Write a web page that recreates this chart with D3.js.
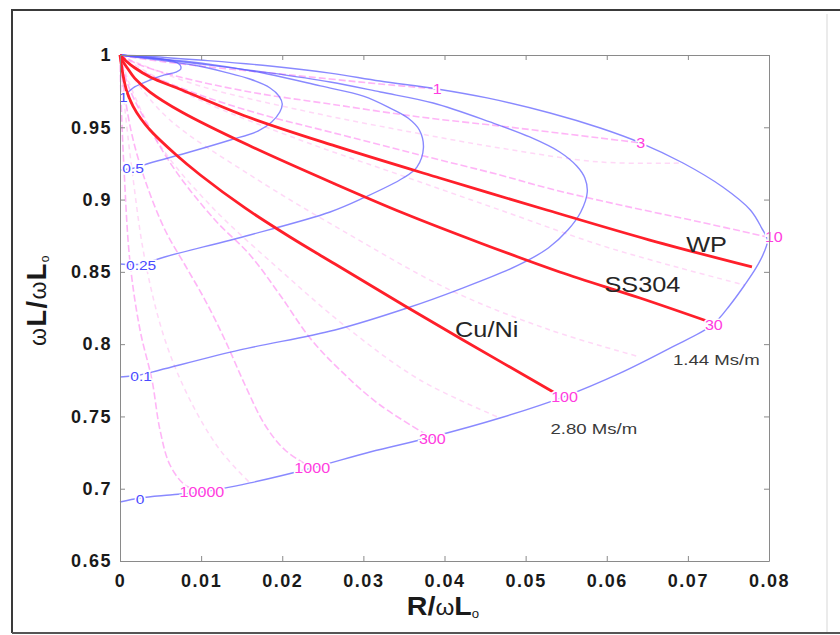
<!DOCTYPE html>
<html><head><meta charset="utf-8">
<script src="https://cdn.jsdelivr.net/npm/d3@7/dist/d3.min.js"></script>
<style>body{margin:0;background:#fff}svg{display:block}</style>
</head><body><svg id="c" width="840" height="635"></svg>
<script>
// ---------- data ----------
const xTickVals = [0, 0.01, 0.02, 0.03, 0.04, 0.05, 0.06, 0.07, 0.08];
const yTickVals = [0.65, 0.7, 0.75, 0.8, 0.85, 0.9, 0.95, 1];

// lift-off contours (blue)
const liftOffNames = ["0", "0.1", "0.25", "0.5", "1"];
const liftOff0 = [[0,0.6908],[0.00247,0.6936],[0.00616,0.6957],[0.01011,0.6977],[0.01603,0.7040],[0.02367,0.7143],[0.03082,0.7254],[0.03846,0.7358],[0.04684,0.7489],[0.05461,0.7634],[0.06164,0.7800],[0.06780,0.7973],[0.0730,0.8132],[0.0752,0.8271],[0.0770,0.8409],[0.0784,0.8527],[0.0794,0.8637],[0.0798,0.8720],[0.0791,0.8803],[0.0777,0.8928],[0.0743,0.9087],[0.0694,0.9253],[0.06422,0.9391],[0.0592,0.9495],[0.05301,0.9599],[0.04524,0.9703],[0.03908,0.9765],[0.03205,0.9820],[0.02589,0.9875],[0.01849,0.9924],[0.00986,0.9965],[0.0037,0.9990],[0,1]];
const liftOff01 = [[0,0.7773],[0.00247,0.7787],[0.00493,0.7821],[0.01479,0.7960],[0.0265,0.8098],[0.0354,0.8250],[0.0419,0.8381],[0.0489,0.8541],[0.0528,0.8665],[0.0552,0.8789],[0.0568,0.8914],[0.0576,0.9052],[0.0573,0.9149],[0.0563,0.9232],[0.0542,0.9329],[0.0505,0.9433],[0.0456,0.9537],[0.0386,0.9668],[0.0321,0.9744],[0.0259,0.9813],[0.0185,0.9876],[0.0099,0.9938],[0.0037,0.9979],[0,1]];
const liftOff025 = [[0,0.8554],[0.0026,0.8554],[0.0055,0.8603],[0.0160,0.8755],[0.0259,0.8914],[0.0300,0.9011],[0.0349,0.9149],[0.0366,0.9225],[0.0374,0.9357],[0.0369,0.9481],[0.0355,0.9564],[0.0333,0.9633],[0.0300,0.9716],[0.0247,0.9786],[0.0182,0.9869],[0.0099,0.9945],[0.0037,0.9979],[0,1]];
const liftOff05 = [[0,0.9205],[0.0018,0.9218],[0.0037,0.9253],[0.0086,0.9329],[0.0136,0.9412],[0.0170,0.9474],[0.0187,0.9537],[0.0197,0.9606],[0.0200,0.9661],[0.0196,0.9716],[0.0185,0.9772],[0.0160,0.9834],[0.0129,0.9882],[0.0097,0.9924],[0.0049,0.9965],[0.0018,0.9986],[0,1]];
const liftOff1 = [[0,0.9710],[0.0007,0.9730],[0.0018,0.9779],[0.0037,0.9827],[0.0055,0.9862],[0.0069,0.9882],[0.0075,0.9903],[0.0074,0.9931],[0.0068,0.9952],[0.0052,0.9972],[0.0031,0.9986],[0.0012,0.9993],[0,1]];
const liftOffLabelPts = [[0.00247,0.6929],[0.0026,0.778],[0.0026,0.8547],[0.0016,0.9218],[0.0004,0.971]];

// constant-frequency contours (magenta dashed)
const freqNames = ["1", "3", "10", "30", "100", "300", "1000", "10000"];
const freqLabelPts = [[0.0391,0.9765],[0.0642,0.9391],[0.0806,0.8741],[0.0732,0.8132],[0.0548,0.7634],[0.0385,0.7344],[0.0237,0.7143],[0.0101,0.6977]];
const freq1 = [[0,1],[0.00123,0.99862],[0.0037,0.99654],[0.00986,0.99239],[0.01849,0.98755],[0.02589,0.9834],[0.03205,0.97994],[0.03908,0.97648]];
const freq3 = [[0,1],[0.00062,0.99792],[0.00247,0.99308],[0.0074,0.98478],[0.01603,0.97441],[0.02589,0.96611],[0.03698,0.95711],[0.04684,0.95089],[0.05301,0.94674],[0.05917,0.94259],[0.06422,0.93913]];
const freq10 = [[0,1],[0.00037,0.99792],[0.00123,0.99377],[0.0037,0.98617],[0.00986,0.97233],[0.01726,0.95919],[0.02589,0.94674],[0.03698,0.93083],[0.04684,0.917],[0.05264,0.90801],[0.06164,0.89625],[0.0715,0.88449],[0.0798,0.8741]];
const freq300 = [[0,1],[0.00099,0.97925],[0.00308,0.95504],[0.00678,0.92046],[0.01171,0.88587],[0.01603,0.86166],[0.01972,0.83399],[0.02342,0.80425],[0.02712,0.78211],[0.03205,0.7579],[0.03846,0.73508]];
const freq1000 = [[0,1],[0.00049,0.97579],[0.00148,0.94466],[0.00308,0.91354],[0.00555,0.87895],[0.00801,0.85474],[0.01048,0.83053],[0.01294,0.80286],[0.01541,0.77174],[0.01787,0.74407],[0.02034,0.72677],[0.02367,0.71432]];
const freq10000 = [[0,1],[0.00012,0.97095],[0.00049,0.92184],[0.00123,0.85682],[0.00247,0.80978],[0.00394,0.7752],[0.00493,0.74061],[0.00616,0.7164],[0.00801,0.70257],[0.01011,0.69773]];
// faint intermediate contours
const faintA = [[0,1],[0.00247,0.99377],[0.00986,0.97856],[0.02219,0.96196],[0.03452,0.94812],[0.04684,0.93567],[0.05917,0.92599],[0.0694,0.9253]];
const faintB = [[0,1],[0.00247,0.99101],[0.00986,0.96887],[0.02219,0.94121],[0.03452,0.917],[0.04684,0.89279],[0.05917,0.86858],[0.06903,0.85267],[0.0770,0.8409]];
const faintC = [[0,1],[0.00185,0.98271],[0.00616,0.95504],[0.01603,0.917],[0.02835,0.87549],[0.04068,0.83745],[0.05301,0.80978],[0.0641,0.79111]];
const faintD = [[0,1],[0.00123,0.97925],[0.00493,0.93775],[0.01109,0.89625],[0.01972,0.85129],[0.02835,0.80978],[0.03698,0.7752],[0.04684,0.74891]];
const faintE = [[0,1],[0.00049,0.96887],[0.00148,0.92045],[0.00308,0.8582],[0.00555,0.80286],[0.00863,0.76136],[0.01233,0.72677],[0.01603,0.70395]];

// material lift-off curves (red)
const materialNames = ["WP", "SS304", "Cu/Ni"];
const wp = [[0,1],[0.00025,0.9986],[0.00074,0.9959],[0.00185,0.991],[0.0037,0.9848],[0.00764,0.9758],[0.01578,0.9571],[0.0265,0.9371],[0.0394,0.9149],[0.0526,0.8928],[0.0653,0.872],[0.0779,0.8534]];
const ss304 = [[0,1],[0.00025,0.9965],[0.0009,0.991],[0.0018,0.984],[0.0037,0.9744],[0.0076,0.9606],[0.0158,0.9377],[0.0265,0.9108],[0.0349,0.8907],[0.0444,0.87],[0.0542,0.8499],[0.0641,0.8319],[0.0727,0.8153]];
const cuNi = [[0,1],[0.00012,0.9952],[0.00037,0.9862],[0.00086,0.9744],[0.0016,0.9647],[0.0026,0.9557],[0.0037,0.9481],[0.0068,0.9315],[0.0099,0.917],[0.01541,0.8942],[0.02096,0.8741],[0.0265,0.8554],[0.03513,0.8264],[0.04228,0.8029],[0.05362,0.7662]];
const materialLabelPts = [[0.0723,0.8692],[0.0644,0.8415],[0.0452,0.8098]];
const conductivityNames = ["1.44 Ms/m", "2.80 Ms/m"];
const conductivityPts = [[0.0735,0.7891],[0.0584,0.7413]];

// ---------- drawing ----------
const svg = d3.select("#c");
const W = 840, H = 635;
const m = {l:120, r:71, t:55, b:74};
const x = d3.scaleLinear().domain([0, 0.08]).range([m.l, W - m.r]);
const y = d3.scaleLinear().domain([0.65, 1]).range([H - m.b, m.t]);
const FONT = "Liberation Sans, Arial, Helvetica, sans-serif";

svg.append("rect").attr("width", W).attr("height", H).attr("fill", "#fff");
// figure frame
svg.append("path").attr("d", "M12,633 L12,10 L840,10").attr("fill","none").attr("stroke","#3a3a3a").attr("stroke-width",2);
svg.append("line").attr("x1",12).attr("x2",840).attr("y1",633).attr("y2",633).attr("stroke","#555").attr("stroke-width",2);
svg.append("line").attr("x1",827).attr("x2",827).attr("y1",14).attr("y2",632).attr("stroke","#e4e4e4").attr("stroke-width",1.5);

const line = d3.line().x(d => x(d[0])).y(d => y(d[1])).curve(d3.curveCatmullRom.alpha(0.5));
const g = svg.append("g");

// faint contours
[faintA, faintB, faintC, faintD, faintE].forEach(c => {
  g.append("path").attr("d", line(c)).attr("fill","none")
    .attr("stroke","#ff8fe8").attr("stroke-opacity",0.35).attr("stroke-width",1.5)
    .attr("stroke-dasharray","5,4");
});
// frequency contours
[freq1, freq3, freq10, freq300, freq1000, freq10000].forEach(c => {
  g.append("path").attr("d", line(c)).attr("fill","none")
    .attr("stroke","#ff5cee").attr("stroke-opacity",0.45).attr("stroke-width",1.6)
    .attr("stroke-dasharray","7,3");
});
// lift-off contours
[liftOff0, liftOff01, liftOff025, liftOff05, liftOff1].forEach(c => {
  g.append("path").attr("d", line(c)).attr("fill","none")
    .attr("stroke","#5c5cff").attr("stroke-opacity",0.72).attr("stroke-width",1.4);
});
// material curves
[wp, ss304, cuNi].forEach(c => {
  g.append("path").attr("d", line(c)).attr("fill","none")
    .attr("stroke","#ff1f2a").attr("stroke-width",2.8);
});

function label(txt, p, color, size, sx, haloW) {
  const t = svg.append("text")
    .attr("transform", `translate(${x(p[0])},${y(p[1])}) scale(${sx},1)`)
    .attr("text-anchor","middle").attr("dominant-baseline","central")
    .attr("font-family", FONT).attr("font-size", size)
    .attr("fill", color).text(txt);
  if (haloW) t.attr("stroke","#fff").attr("stroke-width",haloW).attr("paint-order","stroke");
  return t;
}
liftOffNames.forEach((n,i) => label(n, liftOffLabelPts[i], "#4a4aff", 13.5, 1.15, 3));
freqNames.forEach((n,i) => label(n, freqLabelPts[i], "#ff3ce0", 14, 1.15, 3));
materialNames.forEach((n,i) => label(n, materialLabelPts[i], "#262626", 22, 1.15, 0));
conductivityNames.forEach((n,i) => label(n, conductivityPts[i], "#3a3a3a", 15.5, 1.2, 0));

// axes
const axColor = "#8a8a8a";
function styleAxis(sel, showText) {
  sel.select(".domain").attr("stroke", axColor);
  sel.selectAll(".tick line").attr("stroke", axColor);
  sel.selectAll(".tick text").attr("font-family", FONT).attr("font-size", 18)
    .attr("font-weight","bold").attr("fill","#1a1a1a").attr("letter-spacing","1.5px")
    .style("display", showText ? null : "none");
}
const fmt = d => String(+d.toFixed(2));
styleAxis(svg.append("g").attr("transform",`translate(0,${H-m.b})`)
  .call(d3.axisBottom(x).tickValues(xTickVals).tickFormat(fmt).tickSize(-5).tickSizeOuter(0).tickPadding(13)), true);
styleAxis(svg.append("g").attr("transform",`translate(${m.l},0)`)
  .call(d3.axisLeft(y).tickValues(yTickVals).tickFormat(fmt).tickSize(-5).tickSizeOuter(0).tickPadding(8)), true);
styleAxis(svg.append("g").attr("transform",`translate(0,${m.t})`)
  .call(d3.axisTop(x).tickValues(xTickVals).tickFormat("").tickSize(-5).tickSizeOuter(0)), false);
styleAxis(svg.append("g").attr("transform",`translate(${W-m.r},0)`)
  .call(d3.axisRight(y).tickValues(yTickVals).tickFormat("").tickSize(-5).tickSizeOuter(0)), false);

// axis titles
const xt = svg.append("text").attr("transform","translate(443,615) scale(1.1,1)").attr("text-anchor","middle")
  .attr("font-family", FONT).attr("fill","#1a1a1a");
xt.append("tspan").attr("font-size",26).attr("font-weight","bold").text("R/");
xt.append("tspan").attr("font-size",22).text("ω");
xt.append("tspan").attr("font-size",26).attr("font-weight","bold").text("L");
xt.append("tspan").attr("font-size",12).attr("dy",3).text("o");

const yt = svg.append("text").attr("transform","translate(46,300) rotate(-90)").attr("text-anchor","middle")
  .attr("font-family", FONT).attr("fill","#1a1a1a").attr("letter-spacing","1.5px");
yt.append("tspan").attr("font-size",23).text("ω");
yt.append("tspan").attr("font-size",27).attr("font-weight","bold").text("L/");
yt.append("tspan").attr("font-size",23).text("ω");
yt.append("tspan").attr("font-size",27).attr("font-weight","bold").text("L");
yt.append("tspan").attr("font-size",12).attr("dy",3).text("o");
</script></body></html>
